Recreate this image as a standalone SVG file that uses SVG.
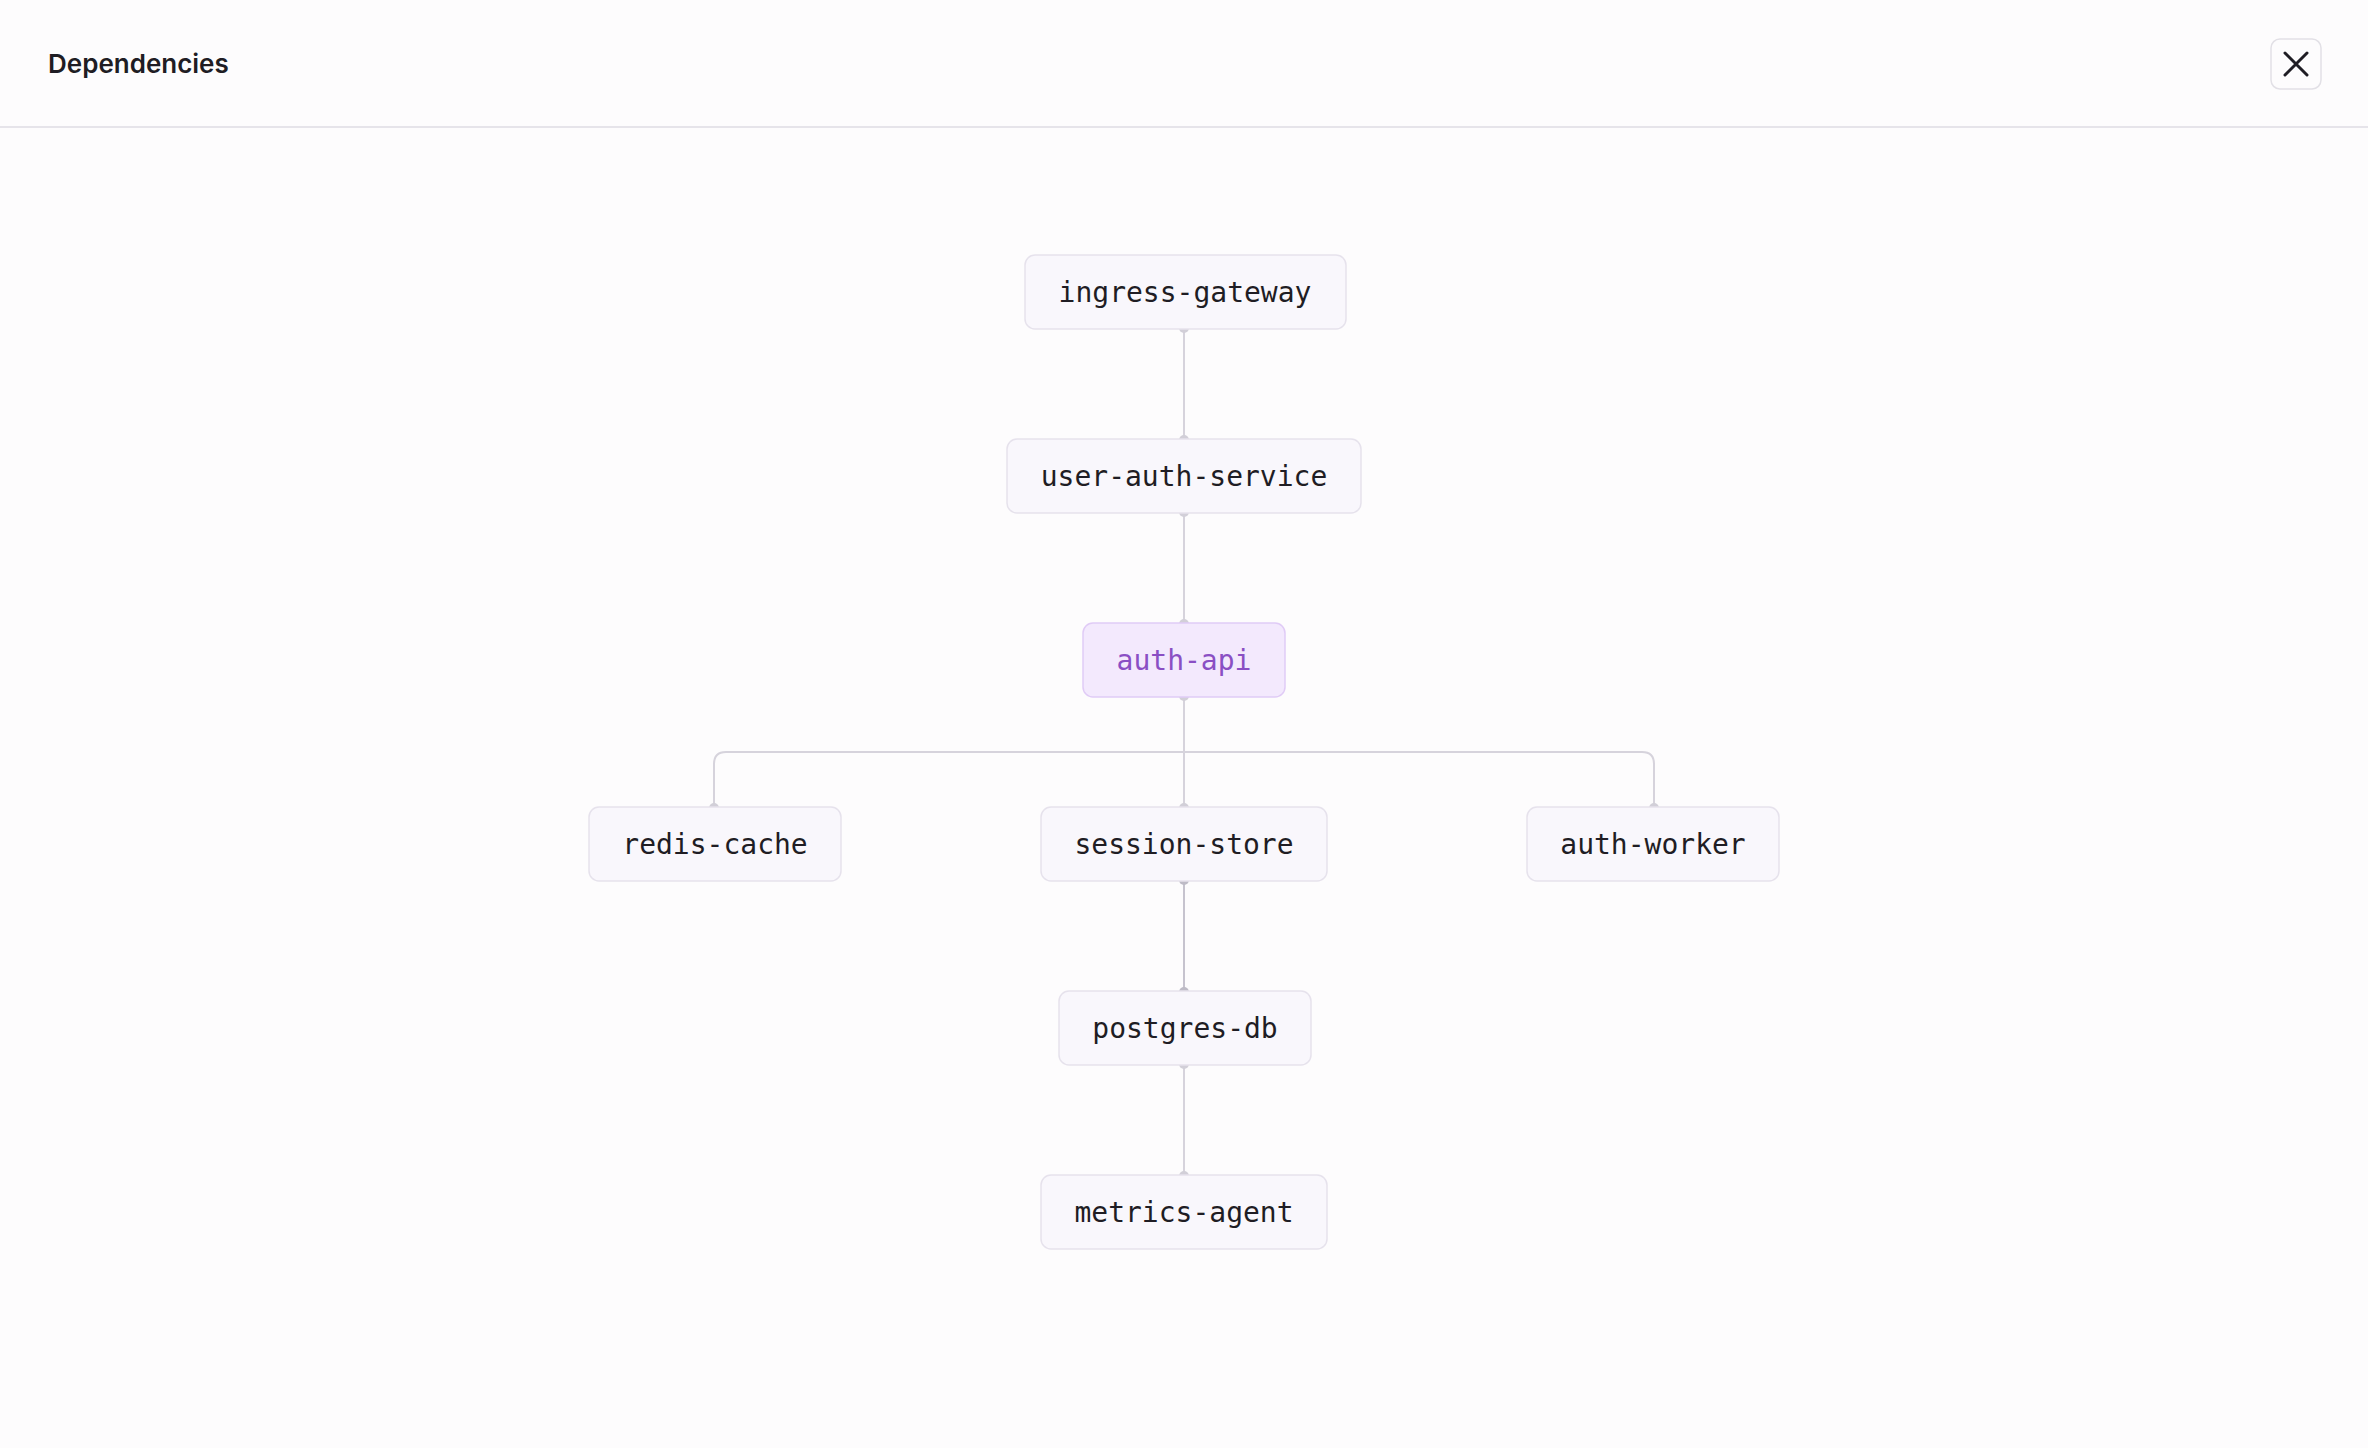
<svg xmlns="http://www.w3.org/2000/svg" width="2368" height="1448" viewBox="0 0 2368 1448">
<style>
.n rect{fill:#f9f7fc;stroke:#e6e2ec;stroke-width:1.5}
.n text{font-family:"DejaVu Sans Mono",monospace;font-size:28px;fill:#1f1d24;text-anchor:middle}
#auth-api rect{fill:#f3e9fd;stroke:#e0cbf6}
#auth-api text{fill:#8a4fc4}
.c path{fill:none;stroke:#d6d3dc;stroke-width:2}
.c circle{fill:#d2cfd8}
</style>
<rect width="2368" height="1448" fill="#fdfcfd"/>
<text x="48" y="73" font-family="Inter,'Liberation Sans',sans-serif" font-size="26" font-weight="600" fill="#1f1d24">Dependencies</text>
<g id="close">
<rect x="2271" y="39" width="50" height="50" rx="9" fill="#fdfcfd" stroke="#e2e0e6" stroke-width="1.5"/>
<path d="M2285 53 L2307 75 M2307 53 L2285 75" stroke="#1f1d24" stroke-width="3" stroke-linecap="round"/>
</g>
<line x1="0" y1="127" x2="2368" y2="127" stroke="#e6e4ea" stroke-width="2"/>
<g class="c" id="connectors">
<path d="M1184 328 V440"/>
<path d="M1184 512 V624"/>
<path d="M1184 696 V808"/>
<path d="M714 808 V764 Q714 752 726 752 H1642 Q1654 752 1654 764 V808"/>
<path d="M1184 880 V992" style="stroke:#c6c3ce"/>
<path d="M1184 1064 V1176"/>
<circle cx="1184" cy="328" r="5"/><circle cx="1184" cy="440" r="5"/>
<circle cx="1184" cy="512" r="5"/><circle cx="1184" cy="624" r="5"/>
<circle cx="1184" cy="696" r="5"/><circle cx="1184" cy="808" r="5"/>
<circle cx="714" cy="808" r="5"/><circle cx="1654" cy="808" r="5"/>
<circle cx="1184" cy="880" r="5" style="fill:#bebbc6"/><circle cx="1184" cy="992" r="5" style="fill:#bebbc6"/>
<circle cx="1184" cy="1064" r="5"/><circle cx="1184" cy="1176" r="5"/>
</g>
<g class="n" id="ingress-gateway"><rect x="1025" y="255" width="321" height="74" rx="10"/><text x="1185" y="302">ingress-gateway</text></g>
<g class="n" id="user-auth-service"><rect x="1007" y="439" width="354" height="74" rx="10"/><text x="1184" y="486">user-auth-service</text></g>
<g class="n" id="auth-api"><rect x="1083" y="623" width="202" height="74" rx="10"/><text x="1184" y="670">auth-api</text></g>
<g class="n" id="redis-cache"><rect x="589" y="807" width="252" height="74" rx="10"/><text x="715" y="854">redis-cache</text></g>
<g class="n" id="session-store"><rect x="1041" y="807" width="286" height="74" rx="10"/><text x="1184" y="854">session-store</text></g>
<g class="n" id="auth-worker"><rect x="1527" y="807" width="252" height="74" rx="10"/><text x="1653" y="854">auth-worker</text></g>
<g class="n" id="postgres-db"><rect x="1059" y="991" width="252" height="74" rx="10"/><text x="1185" y="1038">postgres-db</text></g>
<g class="n" id="metrics-agent"><rect x="1041" y="1175" width="286" height="74" rx="10"/><text x="1184" y="1222">metrics-agent</text></g>
</svg>
